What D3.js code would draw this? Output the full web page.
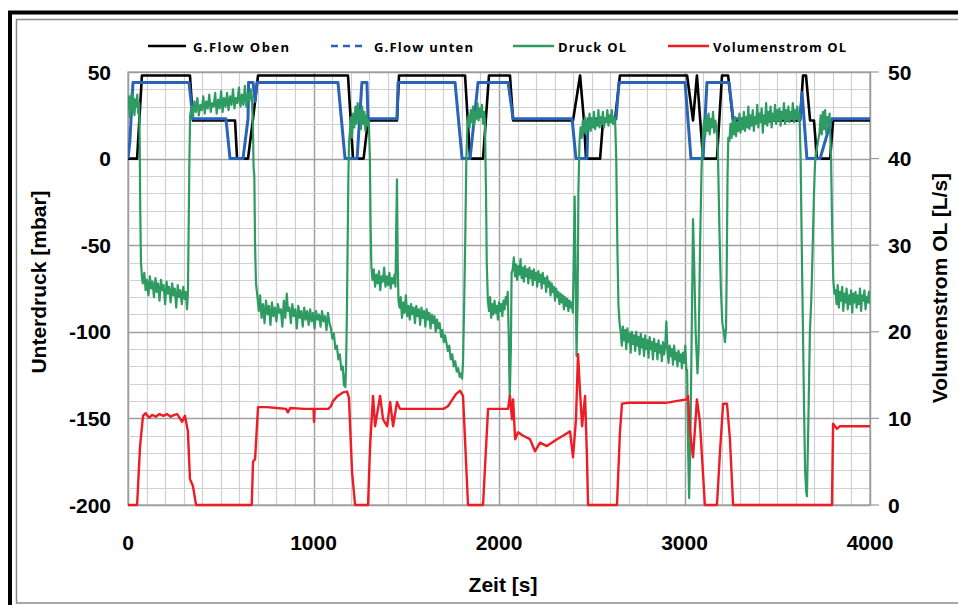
<!DOCTYPE html>
<html><head><meta charset="utf-8">
<script src="https://cdn.jsdelivr.net/npm/d3@7/dist/d3.min.js"></script>
<style>
body{margin:0;background:#fff}
svg{display:block}
text{font-family:"Liberation Sans",Arial,Helvetica,sans-serif;font-weight:bold;fill:#000}
</style></head><body>
<svg id="chart" width="958" height="605"></svg>
<script>
// ---------- data ----------
const xTicks = [0, 1000, 2000, 3000, 4000];
const yLeftTicks = [-200, -150, -100, -50, 0, 50];
const yRightTicks = [0, 10, 20, 30, 40, 50];
const seriesNames = ["G.Flow Oben", "G.Flow unten", "Druck OL", "Volumenstrom OL"];
const axisTitles = { x: "Zeit [s]", yLeft: "Unterdruck [mbar]", yRight: "Volumenstrom OL [L/s]" };

// [Zeit s, Wert]
const gflowOben = [[0,0],[49,0],[75,48],[334,48],[350,22],[577,22],[588,0],[647,0],[674,23],[701,48],[1186,48],[1213,0],[1270,0],[1294,22],[1450,22],[1461,48],[1817,48],[1844,0],[1914,0],[1946,48],[2059,48],[2076,22],[2399,22],[2437,48],[2458,22],[2469,0],[2545,0],[2561,22],[2625,22],[2652,48],[3014,48],[3046,22],[3067,48],[3100,0],[3175,0],[3202,48],[3235,48],[3262,22],[3623,22],[3639,48],[3655,48],[3677,22],[3698,22],[3714,0],[3785,0],[3801,22],[4000,22]];

const gflowUnten = [[0,0],[10,10],[27,44],[329,44],[350,23],[528,23],[550,0],[620,0],[647,23],[650,44],[674,44],[685,33],[695,44],[1132,44],[1170,0],[1235,0],[1261,44],[1288,44],[1294,23],[1450,23],[1456,44],[1763,44],[1801,0],[1844,0],[1887,44],[2049,44],[2076,23],[2394,23],[2415,0],[2474,0],[2480,23],[2631,23],[2647,44],[3003,44],[3035,0],[3100,0],[3121,44],[3240,44],[3262,23],[3623,23],[3634,38],[3660,0],[3731,0],[3785,20],[3795,23],[4000,23]];

const druckOL = [[0,28],[5,36],[10,24],[15,33],[20,38],[25,27],[30,35],[35,25],[40,34],[45,30],[50,37],[55,26],[60,32],[63,10],[66,-30],[70,-60],[75,-68],
[80,-72],[88,-66],[95,-76],[102,-70],[110,-79],[118,-68],[125,-75],[132,-71],[140,-80],[148,-69],[155,-77],[162,-72],[170,-82],[178,-70],[185,-76],[192,-73],[200,-84],[208,-71],[215,-78],[222,-74],[230,-83],[238,-72],[245,-79],[252,-75],[260,-86],[268,-73],[275,-80],[282,-76],[290,-84],[298,-74],[305,-81],[312,-77],[318,-87],[323,-78],
[327,-40],[331,0],[335,25],
[342,30],[350,24],[358,33],[366,27],[374,35],[382,25],[390,31],[398,28],[406,36],[414,26],[422,33],[430,29],[438,37],[446,27],[454,32],[462,30],[470,38],[478,26],[486,34],[494,29],[502,39],[510,27],[518,35],[526,30],[534,38],[542,28],[550,36],[558,31],[566,40],[574,29],[582,35],[590,32],[598,41],[606,30],[614,37],[622,31],[630,42],[638,30],[646,38],[654,33],[662,40],[668,35],
[673,20],[677,-5],[681,-10],[685,-50],[690,-72],
[698,-80],[705,-88],[712,-79],[720,-92],[728,-84],[736,-95],[744,-82],[752,-90],[760,-85],[768,-96],[776,-83],[784,-91],[792,-86],[800,-94],[808,-84],[816,-89],[824,-87],[832,-97],[840,-82],[848,-92],[856,-78],[862,-88],[870,-86],[878,-95],[886,-84],[894,-91],[902,-87],[910,-98],[918,-85],[926,-92],[934,-88],[942,-97],[950,-86],[958,-93],[966,-88],[974,-96],[982,-87],[990,-94],[998,-89],[1006,-98],[1014,-88],[1022,-93],[1030,-90],[1038,-97],[1046,-88],[1054,-94],[1062,-91],[1070,-99],[1078,-89],[1086,-95],
[1094,-98],[1102,-104],[1110,-101],[1118,-110],[1126,-108],[1134,-116],[1142,-113],[1150,-122],[1158,-120],[1164,-131],[1168,-125],[1172,-132],[1176,-118],
[1180,-90],[1184,-50],[1188,-10],[1192,10],
[1196,15],[1202,24],[1208,12],[1214,26],[1220,18],[1226,30],[1232,20],[1238,32],[1244,22],[1250,28],[1256,17],[1262,30],[1268,20],[1274,27],[1280,16],[1286,25],[1292,19],[1298,22],
[1304,0],[1308,-40],[1312,-62],
[1318,-70],[1325,-64],[1332,-74],[1339,-67],[1346,-72],[1353,-65],[1360,-76],[1367,-68],[1374,-71],[1381,-63],[1388,-74],[1395,-68],[1402,-73],[1409,-66],[1416,-75],[1423,-69],[1430,-72],[1437,-67],[1442,-74],
[1446,-40],[1450,-12],[1454,-60],[1458,-82],
[1464,-86],[1470,-80],[1477,-92],[1484,-83],[1491,-89],[1498,-79],[1505,-91],[1512,-85],[1519,-93],[1526,-84],[1533,-90],[1540,-86],[1547,-95],[1554,-85],[1561,-91],[1568,-87],[1575,-96],[1582,-86],[1589,-92],[1596,-88],[1603,-97],[1610,-87],[1617,-93],[1624,-89],[1631,-98],[1638,-90],[1645,-95],[1652,-91],[1659,-100],[1666,-93],[1673,-98],[1680,-95],[1688,-103],[1695,-99],[1702,-106],[1709,-102],
[1716,-106],[1724,-111],[1732,-108],[1740,-116],[1748,-113],[1756,-120],[1764,-117],[1772,-123],[1780,-121],[1788,-126],[1796,-124],[1801,-127],[1806,-118],[1812,-85],[1818,-47],[1824,0],[1830,20],
[1836,25],[1842,18],[1848,28],[1854,21],[1860,30],[1866,19],[1872,27],[1878,23],[1884,32],[1890,22],[1896,29],[1902,24],[1908,31],[1914,20],[1920,27],[1924,22],
[1930,-20],[1934,-60],[1940,-82],
[1946,-88],[1952,-80],[1958,-92],[1964,-84],[1970,-90],[1976,-82],[1982,-89],[1988,-85],[1994,-93],[2000,-83],[2006,-88],[2012,-84],[2018,-91],[2024,-82],[2030,-87],[2036,-80],[2042,-84],[2047,-77],
[2052,-100],[2058,-138],[2064,-110],[2068,-66],
[2074,-64],[2080,-57],[2086,-68],[2092,-61],[2098,-70],[2104,-62],[2110,-67],[2116,-58],[2122,-69],[2128,-63],[2134,-71],[2140,-62],[2146,-68],[2152,-64],[2158,-72],[2164,-63],[2170,-69],[2176,-65],[2182,-73],[2188,-64],[2194,-70],[2200,-66],[2206,-74],[2212,-65],[2218,-71],[2224,-67],[2230,-75],[2236,-66],[2242,-72],[2248,-69],[2254,-77],[2260,-68],[2266,-74],[2272,-71],[2278,-79],[2284,-72],[2290,-77],[2296,-74],[2302,-82],[2308,-75],[2314,-80],[2320,-77],[2326,-84],[2332,-78],[2338,-83],[2344,-79],[2350,-87],[2356,-80],[2362,-85],[2368,-81],[2374,-88],[2380,-82],[2386,-86],[2392,-83],[2398,-89],
[2404,-50],[2408,-22],[2412,-60],[2418,-114],[2424,-80],[2428,-20],[2434,10],
[2440,18],[2446,12],[2452,22],[2458,15],[2464,24],[2470,14],[2476,21],[2482,17],[2488,26],[2494,16],[2500,23],[2506,18],[2512,27],[2518,17],[2524,22],[2530,19],[2536,28],[2542,18],[2548,24],[2554,20],[2560,27],[2566,18],[2572,23],[2578,21],[2584,28],[2590,19],[2596,25],[2602,21],[2608,28],[2614,20],[2620,24],[2626,22],
[2632,0],[2638,-50],[2644,-85],[2650,-95],
[2656,-100],[2662,-108],[2668,-97],[2674,-105],[2680,-99],[2686,-110],[2692,-98],[2698,-106],[2704,-101],[2710,-112],[2716,-100],[2722,-107],[2728,-102],[2734,-111],[2740,-100],[2746,-108],[2752,-103],[2758,-113],[2764,-101],[2770,-109],[2776,-104],[2782,-114],[2788,-102],[2794,-110],[2800,-105],[2806,-115],[2812,-103],[2818,-110],[2824,-106],[2830,-116],[2836,-104],[2842,-111],[2848,-107],[2854,-116],[2860,-105],[2866,-112],[2872,-108],[2878,-117],[2884,-106],[2890,-113],[2896,-109],[2902,-94],[2908,-110],[2914,-118],[2920,-108],[2926,-114],[2932,-110],[2938,-119],[2944,-108],[2950,-116],[2956,-112],[2962,-120],[2968,-111],[2974,-117],[2980,-113],[2986,-121],[2992,-112],[2998,-118],[3004,-108],[3010,-122],
[3014,-122],[3020,-170],[3025,-196],[3032,-160],[3040,-90],[3046,-35],[3052,-60],[3060,-100],[3070,-124],[3076,-110],[3084,-50],[3092,-5],[3100,16],
[3106,22],[3112,13],[3118,25],[3124,16],[3130,26],[3136,14],[3142,23],[3148,18],[3154,27],[3160,15],[3166,22],[3172,18],
[3180,5],[3188,-40],[3196,-75],[3204,-95],[3212,-100],[3218,-106],[3224,-98],[3228,-60],[3232,-10],[3236,12],
[3242,10],[3248,20],[3254,12],[3260,22],[3266,14],[3272,24],[3278,13],[3284,21],[3290,16],[3296,26],[3302,15],[3308,23],[3314,17],[3320,27],[3326,16],[3332,24],[3338,18],[3344,30],[3350,17],[3356,25],[3362,19],[3368,28],[3374,16],[3380,24],[3386,20],[3392,31],[3398,18],[3404,26],[3410,21],[3416,29],[3422,15],[3428,25],[3434,20],[3440,32],[3446,19],[3452,27],[3458,21],[3464,30],[3470,18],[3476,26],[3482,22],[3488,31],[3494,20],[3500,28],[3506,22],[3512,29],[3518,19],[3524,27],[3530,23],[3536,32],[3542,20],[3548,28],[3554,22],[3560,30],[3566,21],[3572,27],[3578,23],[3584,32],[3590,21],[3596,28],[3602,23],[3608,30],[3614,22],[3620,26],
[3626,0],[3632,-50],[3638,-95],[3644,-140],[3650,-180],[3656,-192],[3660,-195],[3668,-150],[3676,-100],[3684,-80],[3692,-47],[3698,-20],[3704,-2],[3712,5],[3720,10],[3728,15],
[3734,25],[3740,14],[3746,27],[3752,17],[3758,28],[3764,15],[3770,24],[3776,20],[3782,26],
[3790,0],[3796,-40],[3802,-70],[3808,-78],
[3814,-76],[3820,-84],[3826,-73],[3832,-86],[3838,-77],[3844,-82],[3850,-74],[3856,-88],[3862,-78],[3868,-83],[3874,-75],[3880,-87],[3886,-79],[3892,-84],[3898,-76],[3904,-89],[3910,-78],[3916,-83],[3922,-77],[3928,-86],[3934,-79],[3940,-84],[3946,-75],[3952,-88],[3958,-79],[3964,-82],[3970,-76],[3976,-87],[3982,-80],[3988,-83],[3994,-77],[4000,-84]];

// [Zeit s, L/s]
const volumenstromOL = [[0,0],[49,0],[65,6.8],[81,10.3],[95,10.6],[105,10.3],[115,10.1],[130,10.4],[150,10.2],[170,10.5],[190,10.3],[210,10.5],[230,10.2],[250,10.4],[265,10.5],[280,10],[292,9.6],[307,10.3],[323,8.5],[334,3],[350,2.2],[367,0],
[667,0],[674,5],[685,5.3],[701,11.3],[750,11.3],[800,11.2],[852,11.1],[862,10.7],[875,11.2],[950,11.1],[1000,11.1],[1003,9.6],[1006,11.1],[1080,11.1],[1094,11.4],[1105,12],[1130,12.6],[1159,13],[1181,13.1],[1191,12.4],[1208,3.8],[1224,0],
[1294,0],[1305,6.8],[1321,12.6],[1332,9.1],[1359,12.6],[1375,9.9],[1397,9.1],[1413,11.9],[1429,9.1],[1450,11.9],[1466,11.1],[1482,11.1],[1700,11.1],[1725,11.4],[1768,12.8],[1790,13.2],[1806,12.6],[1833,0],
[1914,0],[1941,11.1],[2049,11.1],[2059,12.6],[2070,9.9],[2076,12.2],[2087,7.6],[2103,8.4],[2130,8],[2167,7.6],[2194,6.2],[2221,7.2],[2258,6.8],[2313,7.6],[2345,8],[2383,8.5],[2399,5.5],[2415,9.9],[2426,17.4],[2437,13],[2448,9.1],[2464,12.6],[2474,5.7],[2480,0],
[2636,0],[2652,8.4],[2663,11.7],[2700,11.8],[2900,11.8],[2954,12],[3014,12.2],[3019,12.6],[3030,8.4],[3046,5.5],[3067,12.2],[3083,9.6],[3110,0],
[3175,0],[3191,6],[3208,11.7],[3229,11.7],[3245,7.6],[3262,0],
[3795,0],[3801,9.4],[3822,8.8],[3838,9.1],[4000,9.1]];

// ---------- layout ----------
const svg = d3.select("#chart");
const L = 128, R = 870, T = 72, B = 505;
const x = d3.scaleLinear().domain([0, 4000]).range([L, R]);
const yL = d3.scaleLinear().domain([-200, 50]).range([B, T]);
const yR = d3.scaleLinear().domain([0, 50]).range([B, T]);

// frames
svg.append("rect").attr("x", 10).attr("y", 12.5).attr("width", 1000).attr("height", 1000)
  .attr("fill", "none").attr("stroke", "#000").attr("stroke-width", 4);
svg.append("rect").attr("x", 16.5).attr("y", 19.5).attr("width", 1000).attr("height", 583.5)
  .attr("fill", "none").attr("stroke", "#8a8a8a").attr("stroke-width", 1.5);

// grid
const g = svg.append("g");
const minorX = d3.range(0, 4001, 100), minorY = d3.range(-200, 51, 10);
g.selectAll(".vx").data(minorX).join("line")
  .attr("x1", d => Math.round(x(d)) + 0.5).attr("x2", d => Math.round(x(d)) + 0.5)
  .attr("y1", T).attr("y2", B)
  .attr("stroke", d => d % 1000 === 0 ? "#a0a0a0" : "#d0d0d0").attr("stroke-width", d => d % 1000 === 0 ? 1.5 : 1.2);
g.selectAll(".hy").data(minorY).join("line")
  .attr("y1", d => Math.round(yL(d)) + 0.5).attr("y2", d => Math.round(yL(d)) + 0.5)
  .attr("x1", L).attr("x2", R)
  .attr("stroke", d => d % 50 === 0 ? "#a0a0a0" : "#d0d0d0").attr("stroke-width", d => d % 50 === 0 ? 1.5 : 1.2);
svg.append("rect").attr("x", L).attr("y", T).attr("width", R - L).attr("height", B - T)
  .attr("fill", "none").attr("stroke", "#9a9a9a").attr("stroke-width", 1.2);

// right axis ticks
svg.selectAll(".rt").data(yRightTicks).join("line")
  .attr("x1", R).attr("x2", R + 9).attr("y1", d => yR(d)).attr("y2", d => yR(d))
  .attr("stroke", "#9a9a9a").attr("stroke-width", 1.2);

// tick labels
svg.selectAll(".tl").data(yLeftTicks).join("text")
  .attr("x", 111).attr("y", d => yL(d) + 7.5).attr("text-anchor", "end")
  .style("font-size", "21px").text(d => d);
svg.selectAll(".tr").data(yRightTicks).join("text")
  .attr("x", 888).attr("y", d => yR(d) + 7.5).attr("text-anchor", "start")
  .style("font-size", "21px").text(d => d);
svg.selectAll(".tx").data(xTicks).join("text")
  .attr("x", d => x(d)).attr("y", 550).attr("text-anchor", "middle")
  .style("font-size", "21px").text(d => d);

// axis titles
svg.append("text").attr("transform", "translate(503,592)").attr("text-anchor", "middle")
  .style("font-size", "21px").text(axisTitles.x);
svg.append("text").attr("transform", "translate(46,282) rotate(-90)").attr("text-anchor", "middle")
  .style("font-size", "21px").text(axisTitles.yLeft);
svg.append("text").attr("transform", "translate(947,288) rotate(-90)").attr("text-anchor", "middle")
  .style("font-size", "21px").text(axisTitles.yRight);

// series
svg.append("clipPath").attr("id", "clip").append("rect")
  .attr("x", L).attr("y", T - 4).attr("width", R - L).attr("height", B - T + 6);
const plot = svg.append("g").attr("clip-path", "url(#clip)");
const lineL = d3.line().x(d => x(d[0])).y(d => yL(d[1]));
const lineR = d3.line().x(d => x(d[0])).y(d => yR(d[1]));
const colors = ["#000000", "#2b63b6", "#2e9b63", "#ee1d25"];

plot.append("path").datum(gflowOben).attr("d", lineL).attr("fill", "none")
  .attr("stroke", colors[0]).attr("stroke-width", 2.6).attr("stroke-linejoin", "round");
plot.append("path").datum(gflowUnten).attr("d", lineL).attr("fill", "none")
  .attr("stroke", colors[1]).attr("stroke-width", 3).attr("stroke-linejoin", "round");
plot.append("path").datum(druckOL).attr("d", lineL).attr("fill", "none")
  .attr("stroke", colors[2]).attr("stroke-width", 2.2).attr("stroke-linejoin", "round");
plot.append("path").datum(volumenstromOL).attr("d", lineR).attr("fill", "none")
  .attr("stroke", colors[3]).attr("stroke-width", 2.4).attr("stroke-linejoin", "round");

// legend
const legend = [
  { name: seriesNames[0], x1: 148, x2: 186, tx: 193, tw: 96, dash: null },
  { name: seriesNames[1], x1: 331, x2: 367, tx: 374, tw: 99, dash: "7,5" },
  { name: seriesNames[2], x1: 513, x2: 554, tx: 558, tw: 68, dash: null },
  { name: seriesNames[3], x1: 668, x2: 709, tx: 713, tw: 133, dash: null }
];
legend.forEach((d, i) => {
  svg.append("line").attr("x1", d.x1).attr("x2", d.x2).attr("y1", 46).attr("y2", 46)
    .attr("stroke", colors[i]).attr("stroke-width", 2.6).attr("stroke-dasharray", d.dash);
  svg.append("text").attr("x", d.tx).attr("y", 51.5).style("font-size", "13px")
    .style("font-family", "'Open Sans','Liberation Sans',sans-serif")
    .attr("textLength", d.tw).attr("lengthAdjust", "spacing").text(d.name);
});
</script></body></html>
